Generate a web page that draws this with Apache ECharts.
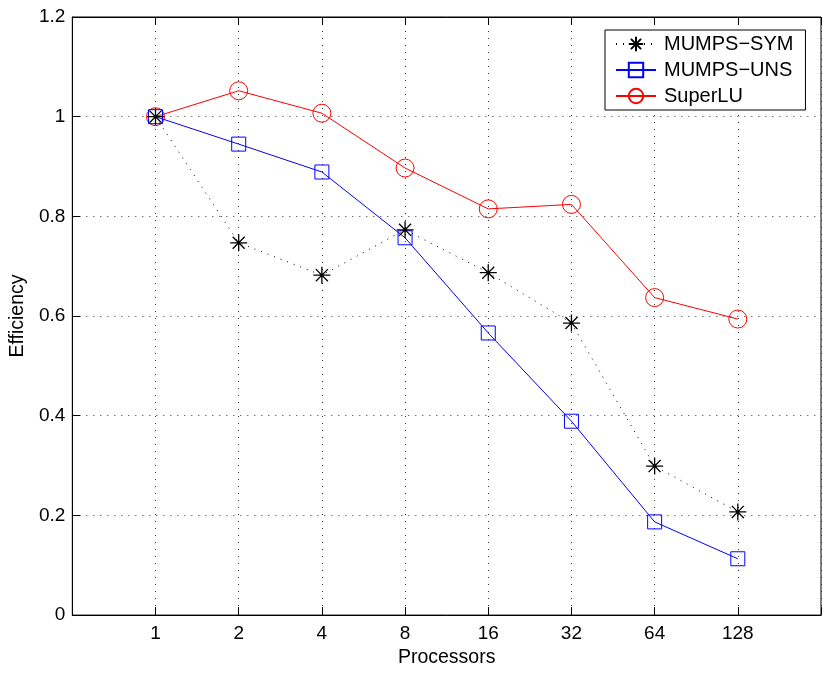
<!DOCTYPE html>
<html>
<head>
<meta charset="utf-8">
<script src="https://cdn.jsdelivr.net/npm/echarts@6/dist/echarts.min.js"></script>
<style>html,body{margin:0;padding:0;background:#fff}#c{width:824px;height:673px}</style>
</head>
<body>
<div id="c"></div>
<script>
var processors = ['1', '2', '4', '8', '16', '32', '64', '128'];
var mumpsSym = [1.0, 0.747, 0.682, 0.773, 0.687, 0.586, 0.299, 0.207];
var mumpsUns = [1.0, 0.945, 0.889, 0.757, 0.566, 0.389, 0.187, 0.113];
var superLU = [1.0, 1.052, 1.007, 0.897, 0.815, 0.824, 0.637, 0.594];
var yTicks = [0, 0.2, 0.4, 0.6, 0.8, 1, 1.2];

function pairs(arr) { return arr.map(function (v, i) { return [i, v]; }); }

var FONT = 'Liberation Sans, Arial, Helvetica, sans-serif';
var asterisk = 'path://M5,0L5,10M0,5L10,5M1.46,1.46L8.54,8.54M1.46,8.54L8.54,1.46';
var gridLine = { show: true, lineStyle: { color: '#333', type: [1, 6], width: 1 } };

var chart = echarts.init(document.getElementById('c'), null, { renderer: 'canvas' });
chart.setOption({
  animation: false,
  backgroundColor: '#fff',
  grid: { left: 70, top: 17, right: -9, bottom: 53, show: true, borderColor: '#000', borderWidth: 1, containLabel: false },
  legend: {
    orient: 'vertical', left: 605, top: 30,
    backgroundColor: '#fff', borderColor: '#000', borderWidth: 1,
    padding: [4, 12, 4, 10], itemWidth: 40, itemHeight: 18, itemGap: 6,
    textStyle: { fontFamily: FONT, fontSize: 20, color: '#000', padding: [0, 0, 0, 3] },
    data: ['MUMPS−SYM', 'MUMPS−UNS', 'SuperLU']
  },
  xAxis: [{
    type: 'value', min: -1, max: 8, interval: 1, position: 'bottom',
    name: 'Processors', nameLocation: 'middle', nameGap: 30,
    nameTextStyle: { fontFamily: FONT, fontSize: 19.5, color: '#000' },
    axisLine: { show: true, onZero: false, lineStyle: { color: '#000', width: 1 } },
    axisTick: { show: true, inside: true, length: 8, lineStyle: { color: '#000' } },
    axisLabel: { fontFamily: FONT, fontSize: 19, color: '#000', margin: 9,
      formatter: function (v) { return (v >= 0 && v < processors.length && v === Math.round(v)) ? processors[v] : ''; } },
    splitLine: gridLine
  }, {
    type: 'value', min: -1, max: 8, interval: 1, position: 'top',
    axisLine: { show: true, onZero: false, lineStyle: { color: '#000', width: 1 } },
    axisTick: { show: true, inside: true, length: 8, lineStyle: { color: '#000' } },
    axisLabel: { show: false }, splitLine: { show: false }
  }],
  yAxis: [{
    type: 'value', min: yTicks[0], max: yTicks[yTicks.length - 1], interval: 0.2,
    name: 'Efficiency', nameLocation: 'middle', nameGap: 37,
    nameTextStyle: { fontFamily: FONT, fontSize: 19.5, color: '#000' },
    axisLine: { show: true, onZero: false, lineStyle: { color: '#000', width: 1 } },
    axisTick: { show: true, inside: true, length: 8, lineStyle: { color: '#000' } },
    axisLabel: { fontFamily: FONT, fontSize: 19, color: '#000', margin: 7,
      formatter: function (v) { return String(+v.toFixed(1)); } },
    splitLine: gridLine
  }],
  series: [{
    name: 'MUMPS−SYM', type: 'line', data: pairs(mumpsSym),
    symbol: asterisk, symbolSize: 17, z: 4,
    lineStyle: { color: '#000', width: 1, type: [1, 6] },
    itemStyle: { color: 'rgba(0,0,0,0)', borderColor: '#000', borderWidth: 1.3 }
  }, {
    name: 'MUMPS−UNS', type: 'line', data: pairs(mumpsUns),
    symbol: 'rect', symbolSize: 14, z: 3,
    lineStyle: { color: '#0000ff', width: 1 },
    itemStyle: { color: 'rgba(0,0,0,0)', borderColor: '#0000ff', borderWidth: 1 }
  }, {
    name: 'SuperLU', type: 'line', data: pairs(superLU),
    symbol: 'circle', symbolSize: 18, z: 2,
    lineStyle: { color: '#ff0000', width: 1 },
    itemStyle: { color: 'rgba(0,0,0,0)', borderColor: '#ff0000', borderWidth: 1 }
  }]
});
</script>
</body>
</html>
